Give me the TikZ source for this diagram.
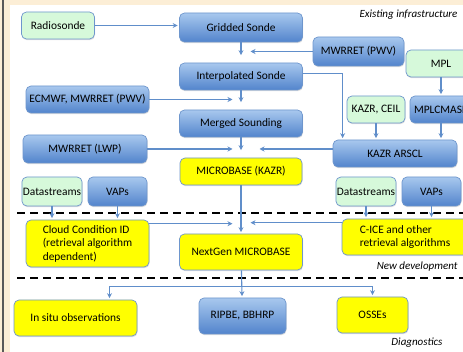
\documentclass[tikz,border=0pt]{standalone}
\usepackage{fontspec}
\setmainfont{Carlito}
\usetikzlibrary{positioning, arrows.meta, shadows}
\definecolor{ARMBlueTop}{RGB}{168,200,238}
\definecolor{ARMBlueBot}{RGB}{82,132,204}
\definecolor{ARMBlueLine}{RGB}{110,150,205}
\definecolor{ARMGreen}{RGB}{214,249,218}
\definecolor{ARMYellow}{RGB}{255,255,0}
\definecolor{ARMArrow}{RGB}{96,142,202}
\definecolor{ARMFrame}{RGB}{252,238,214}

\begin{document}
\begin{tikzpicture}[x=1pt, y=-1pt,
          nb/.style={rectangle, rounded corners=5pt, minimum width=123pt,
                     minimum height=27pt, align=center, inner xsep=1pt,
                     font=\fontsize{11.4}{13.5}\selectfont,
                     draw=ARMBlueLine, line width=0.7pt,
                     drop shadow={shadow xshift=0.5pt, shadow yshift=-1.2pt,
                                  opacity=0.25}},
          bluebox/.style={nb, top color=ARMBlueTop, bottom color=ARMBlueBot},
          greenbox/.style={nb, fill=ARMGreen},
          yellowbox/.style={nb, fill=ARMYellow},
          arr/.style={-{Stealth[length=5pt, width=5pt]}, draw=ARMArrow,
                      line width=1.1pt, shorten >=1.5pt},
          sep/.style={draw=black, line width=2.6pt, dash pattern=on 8pt off 5pt},
          tag/.style={font=\itshape\fontsize{11}{13}\selectfont}
        ]
        \path[use as bounding box, clip] (0,0) rectangle (463,352);
        \fill[ARMFrame] (0,0) rectangle (463,352);
        \fill[white] (10,5) rectangle (463,352);
        \draw[black!65, line width=1.2pt] (3,0) -- (3,352);

        % Existing infrastructure
        \node[greenbox, minimum width=73pt]  (radio) at (58, 25.5) {Radiosonde};
        \node[bluebox, minimum height=29pt]  (grid)  at (241, 27.5) {Gridded Sonde};
        \node[bluebox, minimum width=91pt, minimum height=29pt]
              (mwpwv) at (358.5, 51.5) {MWRRET (PWV)};
        \node[greenbox, minimum width=70pt]  (mpl)   at (441, 63.5) {MPL};
        \node[bluebox]                       (interp) at (241, 76.5) {Interpolated Sonde};
        \node[bluebox]                       (ecmwf) at (87.5, 99.5) {ECMWF, MWRRET (PWV)};
        \node[greenbox, minimum width=58pt]  (kazrceil) at (376, 109.5) {KAZR, CEIL};
        \node[bluebox, minimum width=62pt]   (mplcm) at (441, 109.5) {MPLCMASK};
        \node[bluebox]                       (merged) at (241, 123.5) {Merged Sounding};
        \node[bluebox, minimum width=124pt, minimum height=28pt]
              (lwp) at (85, 149) {MWRRET (LWP)};
        \node[bluebox, minimum width=124pt]  (arscl) at (395, 153.5) {KAZR ARSCL};
        \node[yellowbox, minimum width=122pt] (mbkazr) at (241, 171.5) {MICROBASE (KAZR)};

        % Inputs
        \node[greenbox, minimum width=60pt, minimum height=29pt]
              (dsL)  at (52, 191.5) {Datastreams};
        \node[bluebox, minimum width=59pt, minimum height=29pt]
              (vapL) at (117.5, 191.5) {VAPs};
        \node[greenbox, minimum width=60pt, minimum height=29pt]
              (dsR)  at (366, 191.5) {Datastreams};
        \node[bluebox, minimum width=59pt, minimum height=29pt]
              (vapR) at (431.5, 191.5) {VAPs};

        % New development
        \node[yellowbox, minimum height=47pt, align=left]
              (cloud) at (87.5, 243.5)
              {Cloud Condition ID\\(retrieval algorithm\\dependent)};
        \node[yellowbox, minimum width=126pt, minimum height=36pt, align=left]
              (cice) at (405, 237) {C-ICE and other\\retrieval algorithms};
        \node[yellowbox, minimum height=36pt] (nextgen) at (241, 252) {NextGen MICROBASE};

        % Diagnostics
        \node[yellowbox, minimum height=36pt] (insitu) at (75.5, 318) {In situ observations};
        \node[bluebox, minimum width=87pt, minimum height=36pt]
              (ripbe) at (242.5, 316) {RIPBE, BBHRP};
        \node[yellowbox, minimum width=71pt, minimum height=36pt]
              (osse) at (372.5, 315) {OSSEs};

        \draw[sep] (17,213) -- (470,213);
        \draw[sep] (17,278) -- (470,278);

        \draw[arr] (radio) -- (radio -| grid.west);
        \draw[arr] (grid)  -- ([yshift=6pt]interp.north);
        \draw[arr] (mwpwv) -- ([xshift=8pt]mwpwv -| grid);
        \draw[arr] (interp) -- ([yshift=6pt]merged.north);
        \draw[arr] (ecmwf) -- ([xshift=-7pt]ecmwf -| merged);
        \draw[arr] (merged) -- ([yshift=6pt]mbkazr.north);
        \draw[arr] (lwp)   -- ([xshift=-7pt]lwp -| mbkazr);
        \draw[arr] (arscl.west |- lwp) -- ([xshift=17pt]lwp -| mbkazr);
        \draw[arr] ([yshift=3pt]interp.east) -| ([xshift=10pt]arscl.north west);
        \draw[arr] (kazrceil) -- (kazrceil |- arscl.north);
        \draw[arr] (mpl)   -- (mplcm);
        \draw[arr] (mplcm) -- (mplcm |- arscl.north);
        \draw[arr] (mbkazr) -- (nextgen);
        \draw[arr] (dsL)   -- (dsL |- cloud.north);
        \draw[arr] (vapL)  -- (vapL |- cloud.north);
        \draw[arr] (dsR)   -- (dsR |- cice.north);
        \draw[arr] (vapR)  -- (vapR |- cice.north);

        \coordinate (cl) at ([yshift=-4pt]cloud.north east);
        \coordinate (ci) at ([yshift=-4pt]cice.north west);
        \draw[arr] (cl) -- ([xshift=-7pt]cl -| nextgen);
        \draw[arr] (ci) -- ([xshift=8pt]ci -| nextgen);

        \coordinate (split) at ([yshift=-16pt]nextgen.south);
        \draw[arr] (nextgen) -- (ripbe);
        \draw[arr] (split) -| ([xshift=34pt]insitu.north);
        \draw[arr] (split) -| (osse);

        \node[tag, anchor=east] (existlbl) at (461, 15)  {Existing infrastructure};
        \node[tag, anchor=east] (newlbl)   at (461, 267) {New development};
        \node[tag]              (diaglbl)  at (417, 343) {Diagnostics};
      \end{tikzpicture}
\end{document}
